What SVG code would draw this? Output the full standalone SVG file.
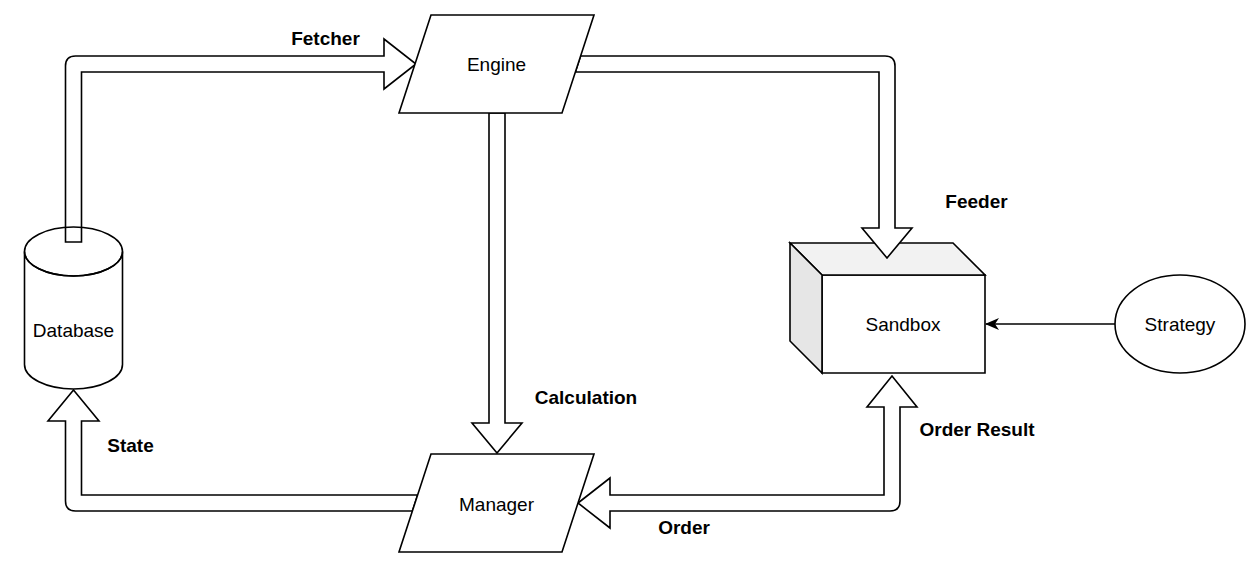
<svg xmlns="http://www.w3.org/2000/svg" width="1256" height="572" viewBox="0 0 1256 572">
<style>
.shape{fill:#ffffff;stroke:#000000;stroke-width:1.6;stroke-linejoin:miter}
.line{fill:none;stroke:#000000;stroke-width:1.6}
.flex{fill:#ffffff;stroke:#000000;stroke-width:1.6;stroke-linejoin:miter}
.lbl{font-family:"Liberation Sans",Arial,Helvetica,sans-serif;font-size:19px;fill:#000000;text-anchor:middle}
.b{font-weight:bold}
</style>
<defs>
<marker id="classic" viewBox="0 0 14 12" refX="13" refY="6" markerWidth="14" markerHeight="12" markerUnits="userSpaceOnUse" orient="auto">
<path d="M0,0 L14,6 L0,12 L4,6 Z" fill="#000000"/>
</marker>
</defs>
<rect width="1256" height="572" fill="#ffffff"/>

<g id="node-sandbox">
<polygon class="shape" points="822,275 985,275 985,373 822,373"/>
<polygon class="shape" style="fill:#f2f2f2" points="790,243 953,243 985,275 822,275"/>
<polygon class="shape" style="fill:#e6e6e6" points="790,243 822,275 822,373 790,341"/>
<text class="lbl" x="903" y="331">Sandbox</text>
</g>

<g id="connectors">
<path id="edge-fetcher" class="flex" d="M65.5,242 L65.5,66 Q65.5,56 75.5,56 L384,56 L384,39 L416,64 L384,89 L384,72 L81.5,72 L81.5,242 Z"/>
<path id="edge-feeder" class="flex" d="M580.6,56 L885,56 Q895,56 895,66 L895,228 L912,228 L887,258 L862,228 L879,228 L879,72 L575.4,72 Z"/>
<path id="edge-calculation" class="flex" d="M489,113 L505,113 L505,423 L522,423 L497,453 L472,423 L489,423 Z"/>
<path id="edge-state" class="flex" d="M73.5,390 L99,421 L81.5,421 L81.5,495 L417.6,495 L412.4,511 L75.5,511 Q65.5,511 65.5,501 L65.5,421 L48,421 Z"/>
<path id="edge-order" class="flex" d="M578,503 L610,478 L610,495 L884,495 L884,407 L867,407 L892,376 L917,407 L900,407 L900,501 Q900,511 890,511 L610,511 L610,528 Z"/>
<line id="edge-strategy" x1="1115" y1="324" x2="986" y2="324" stroke="#000000" stroke-width="1.6" marker-end="url(#classic)"/>
<text class="lbl b" x="325.5" y="45">Fetcher</text>
<text class="lbl b" x="976.5" y="208">Feeder</text>
<text class="lbl b" x="586" y="404">Calculation</text>
<text class="lbl b" x="977" y="436">Order Result</text>
<text class="lbl b" x="130.5" y="452">State</text>
<text class="lbl b" x="684" y="534">Order</text>
</g>

<g id="node-database">
<path class="shape" d="M24.5,251.5 A49,24.5 0 0 0 122.5,251.5 L122.5,364.5 A49,24.5 0 0 1 24.5,364.5 Z"/>
<path class="line" d="M24.5,251.5 A49,24.5 0 0 1 122.5,251.5 A49,24.5 0 0 1 24.5,251.5 Z"/>
<text class="lbl" x="73.5" y="337">Database</text>
</g>

<g id="node-engine">
<polygon class="shape" points="431,15 594,15 562,113 399,113"/>
<text class="lbl" x="496.5" y="71">Engine</text>
</g>

<g id="node-manager">
<polygon class="shape" points="431,454 594,454 562,552 399,552"/>
<text class="lbl" x="496.5" y="511">Manager</text>
</g>

<g id="node-strategy">
<ellipse class="shape" cx="1180" cy="324" rx="65" ry="49"/>
<text class="lbl" x="1180" y="331">Strategy</text>
</g>
</svg>
